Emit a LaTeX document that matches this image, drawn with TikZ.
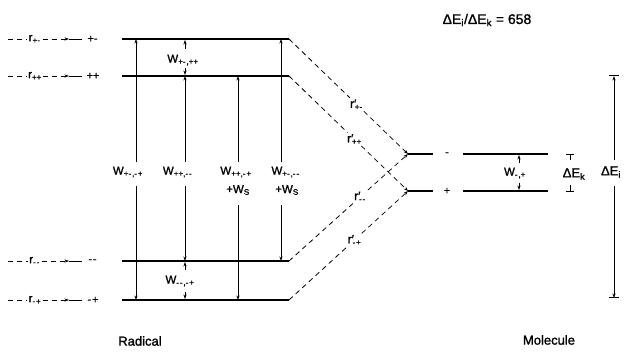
\documentclass[tikz,border=0pt]{standalone}
\usepackage{fontspec}
\setmainfont{Liberation Sans}[FakeBold=1.3]
\usetikzlibrary{arrows.meta}
\newcommand\sbs[1]{\textsubscript{#1}}
\newcommand\h{\mbox{-}\kern0.9pt}
\newcommand\rpr[1]{r′\kern-1.5pt\textsubscript{#1}}
\begin{document}
\begin{tikzpicture}[x=1pt,y=-1pt,
  lvl/.style={line width=2.2pt},
  dsh/.style={dash pattern=on 5pt off 4pt, line width=0.8pt},
  thin/.style={line width=0.7pt},
  tip/.style={thin,-{Stealth[length=4.5pt,width=3.2pt]}},
  lab/.style={font=\fontsize{11.5}{12}\selectfont, inner sep=1pt},
  big/.style={font=\fontsize{13}{14}\selectfont, inner sep=1pt},
  slab/.style={font=\fontsize{11}{11}\selectfont, inner sep=1pt},
  rlab/.style={font=\fontsize{12}{12}\selectfont, inner sep=1.5pt, fill=white}]
\useasboundingbox (0,0) rectangle (633,352);

% radical levels
\foreach \n/\y/\s in {1/39/+\h,2/76/++,3/261/\h\h,4/300/\h+}{
  \coordinate (L\n a) at (122,\y);
  \coordinate (L\n b) at (289,\y);
  \draw[lvl] (L\n a) -- (L\n b);
  \coordinate (s\n) at (8,\y);
  \node[lab] (r\n) at (35,\y) {r\sbs{\s}};
  \coordinate (t\n) at (69,\y);
  \coordinate (u\n) at (82,\y);
  \node[slab] (p\n) at (93,\y) {\s};
  \draw[dsh] (s\n) -- (r\n);
  \draw[dsh,tip] (r\n) -- (t\n);
  \draw[thin] (t\n) -- (u\n);
}

% vertical transitions
\node[lab] (w1) at (128,172) {W\sbs{+\h,\h+}};
\node[lab] (w2) at (178,172) {W\sbs{++,\h\h}};
\node[lab] (w3) at (236,172) {W\sbs{++,\h+}};
\node[lab] (w3s) at (238,190) {+W\sbs{S}};
\node[lab] (w4) at (286,172) {W\sbs{+\h,\h\h}};
\node[lab] (w4s) at (287,190) {+W\sbs{S}};

\coordinate (c1t) at (136,39);  \coordinate (c1a) at (136,162);
\coordinate (c1b) at (136,186); \coordinate (c1e) at (136,300);
\draw[tip] (c1a) -- (c1t); \draw[tip] (c1b) -- (c1e);

\coordinate (c2t) at (185,76);  \coordinate (c2a) at (185,162);
\coordinate (c2b) at (185,186); \coordinate (c2e) at (185,261);
\draw[tip] (c2a) -- (c2t); \draw[tip] (c2b) -- (c2e);

\coordinate (c3t) at (238,76);  \coordinate (c3a) at (238,162);
\coordinate (c3b) at (238,205); \coordinate (c3e) at (238,300);
\draw[tip] (c3a) -- (c3t); \draw[tip] (c3b) -- (c3e);

\coordinate (c4t) at (281,39);  \coordinate (c4a) at (281,162);
\coordinate (c4b) at (281,205); \coordinate (c4e) at (281,261);
\draw[tip] (c4a) -- (c4t); \draw[tip] (c4b) -- (c4e);

% W+-,++
\node[lab] (w5) at (183,60) {W\sbs{+\h,++}};
\coordinate (c5a) at (185,49); \coordinate (c5t) at (185,40);
\coordinate (c5b) at (185,68); \coordinate (c5e) at (185,75);
\draw[tip] (c5a) -- (c5t); \draw[tip] (c5b) -- (c5e);

% W--,-+
\node[lab] (w6) at (180,281) {W\sbs{\h\h,\h+}};
\coordinate (c6a) at (185,270); \coordinate (c6t) at (185,262);
\coordinate (c6b) at (185,292); \coordinate (c6e) at (185,299);
\draw[tip] (c6a) -- (c6t); \draw[tip] (c6b) -- (c6e);

% molecule levels
\coordinate (M1) at (408,154); \coordinate (M1s) at (433,154);
\coordinate (M2) at (408,191); \coordinate (M2s) at (433,191);
\node[slab] (q1) at (447,154) {-};
\node[slab] (q2) at (447,191) {+};
\coordinate (N1a) at (463,154); \coordinate (N1b) at (548,154);
\coordinate (N2a) at (463,191); \coordinate (N2b) at (548,191);
\draw[lvl] (N1a) -- (N1b);
\draw[lvl] (N2a) -- (N2b);
\draw[line width=1.4pt] (M1) -- (M1s);
\draw[line width=1.4pt] (M2) -- (M2s);

% correlation lines
\path (L1b) -- (M1) node[rlab, pos=0.57] (rp1) {\rpr{+\h}};
\path (L2b) -- (M2) node[rlab, pos=0.55] (rp2) {\rpr{++}};
\path (L3b) -- (M1) node[rlab, pos=0.6] (rp3) {\rpr{\h\h}};
\path (L4b) -- (M2) node[rlab, pos=0.55] (rp4) {\rpr{\h+}};
\foreach \i/\m/\l in {1/M1/L1b,2/M2/L2b,3/M1/L3b,4/M2/L4b}{
  \draw[dsh] (\l) -- (rp\i);
  \draw[dsh,tip] (rp\i) -- (\m);
}

% W-,+
\node[lab] (w7) at (515,173) {W\sbs{\h,+}};
\coordinate (c7a) at (519,163); \coordinate (c7t) at (519,155);
\coordinate (c7b) at (519,183); \coordinate (c7e) at (519,190);
\draw[tip] (c7a) -- (c7t); \draw[tip] (c7b) -- (c7e);

% Delta E_k
\node[big] (dk) at (574,174) {ΔE\sbs{k}};
\coordinate (k1) at (570,160); \coordinate (k1t) at (570,154);
\coordinate (k2) at (570,185); \coordinate (k2t) at (570,191);
\draw[thin] (k1) -- (k1t); \draw[thin] (k2) -- (k2t);
\draw[thin] (566,154) -- (574,154);
\draw[thin] (566,191) -- (574,191);

% Delta E_i
\node[big] (di) at (611,172) {ΔE\sbs{i}};
\coordinate (i1) at (614,160); \coordinate (i1t) at (614,76);
\coordinate (i2) at (614,186); \coordinate (i2t) at (614,298);
\draw[tip] (i1) -- (i1t); \draw[tip] (i2) -- (i2t);
\draw[line width=1pt] (609,76) -- (619,76);
\draw[line width=1pt] (609,298) -- (619,298);

% titles
\node[font=\fontsize{14}{15}\selectfont, inner sep=1pt] (ttl) at (487,20) {ΔE\sbs{i}/ΔE\sbs{k} = 658};
\node[big] (rad) at (140,341) {Radical};
\node[big] (mol) at (549,340) {Molecule};
\end{tikzpicture}
\end{document}
